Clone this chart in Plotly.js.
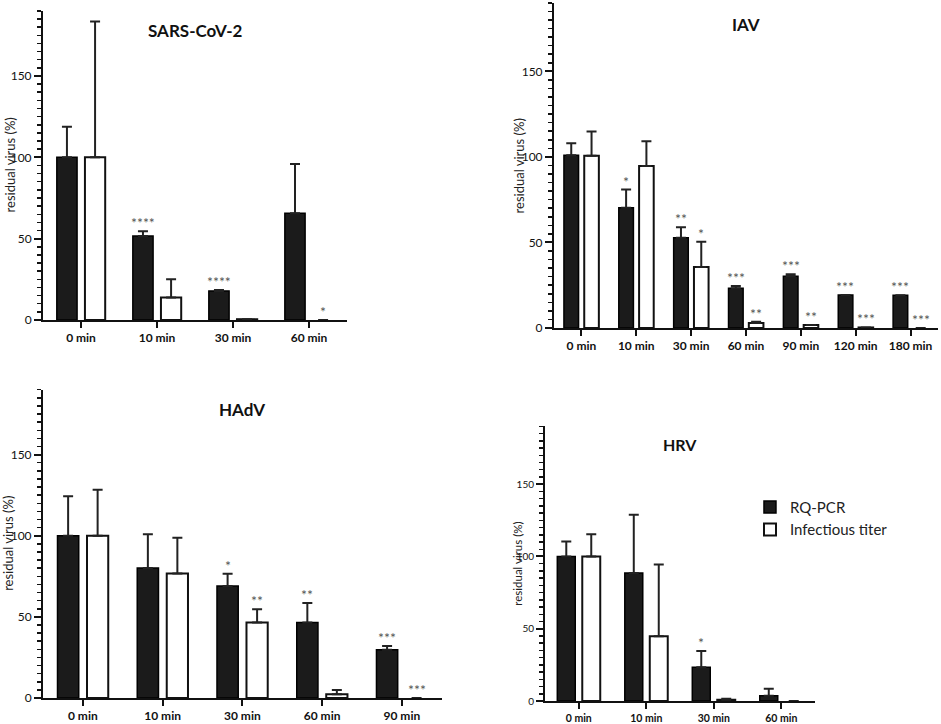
<!DOCTYPE html>
<html>
<head>
<meta charset="utf-8">
<script src="https://cdn.plot.ly/plotly-3.0.1.min.js"></script>
<style>
  html, body { margin: 0; padding: 0; background: #fff; }
  #chart { width: 941px; height: 724px; }
</style>
</head>
<body>
<div id="chart"></div>
<script>
// Values (residual virus, % of 0 min).
const sarsCats = ['0 min', '10 min', '30 min', '60 min'];
const sarsPcr = [100, 51.7, 17.9, 65.6];
const sarsPcrErr = [18.7, 2.8, 0.6, 30.3];
const sarsTiter = [100, 13.8, 0.5, 0];
const sarsTiterErr = [83.5, 11.3, 0, 0];
const sarsPcrStars = ['', '****', '****', ''];
const sarsTiterStars = ['', '', '', '*'];

const iavCats = ['0 min', '10 min', '30 min', '60 min', '90 min', '120 min', '180 min'];
const iavPcr = [101, 70.3, 52.7, 23.2, 30.3, 19.3, 19.1];
const iavPcrErr = [7, 10.6, 6.1, 1.4, 1.1, 0, 0];
const iavTiter = [100.6, 94.7, 35.7, 2.9, 1.8, 0.3, 0];
const iavTiterErr = [14.2, 14.5, 14.7, 0.8, 0, 0, 0];
const iavPcrStars = ['', '*', '**', '***', '***', '***', '***'];
const iavTiterStars = ['', '', '*', '**', '**', '***', '***'];

const hadvCats = ['0 min', '10 min', '30 min', '60 min', '90 min'];
const hadvPcr = [100, 80.1, 69.1, 46.5, 29.7];
const hadvPcrErr = [24.4, 20.9, 7.5, 12.1, 2.3];
const hadvTiter = [100, 76.8, 46.5, 2.3, 0];
const hadvTiterErr = [28.3, 22, 8.2, 2.6, 0];
const hadvPcrStars = ['', '', '*', '**', '***'];
const hadvTiterStars = ['', '', '**', '', '***'];

const hrvCats = ['0 min', '10 min', '30 min', '60 min'];
const hrvPcr = [100, 88.5, 23.3, 3.7];
const hrvPcrErr = [10.4, 40.3, 11.3, 4.8];
const hrvTiter = [100, 44.9, 0.9, 0];
const hrvTiterErr = [15.4, 49.6, 0.7, 0];
const hrvPcrStars = ['', '', '*', ''];
const hrvTiterStars = ['', '', '', ''];

const FONT = 'Lato, "Open Sans", sans-serif';
const BLACK = '#1b1b1b';
const STAR_COLOR = '#555';
// half-distance between the two bar centres of a group, in category units
const GROUP_OFFSET = 0.186;

const traces = [];
const annotations = [];
const layout = {
  width: 941,
  height: 724,
  margin: { l: 0, r: 0, t: 0, b: 0 },
  paper_bgcolor: '#fff',
  plot_bgcolor: 'rgba(0,0,0,0)',
  font: { family: FONT, color: '#111' },
  barmode: 'group',
  bargap: 0.26,
  bargroupgap: 0.28,
  showlegend: true,
  legend: {
    x: 0.797, y: 0.322, xanchor: 'left', yanchor: 'top',
    font: { family: FONT, size: 15, color: '#222' },
    bgcolor: 'rgba(0,0,0,0)',
    tracegroupgap: 0,
  },
  annotations,
};

// upper error bars only; a zero error gets no cap at all
function errBar(err) {
  return {
    type: 'data', symmetric: false,
    array: err.map(e => (e > 0 ? e : NaN)),
    arrayminus: err.map(() => 0),
    color: '#222', thickness: 2, width: 5,
  };
}

function starNotes(stars, vals, errs, shift, ax) {
  stars.forEach((s, i) => {
    if (!s) return;
    annotations.push({
      xref: 'x' + ax, yref: 'y' + ax,
      x: i + shift, y: vals[i] + errs[i],
      text: s, showarrow: false,
      yanchor: 'bottom', yshift: -2,
      font: { family: FONT, size: 14, color: STAR_COLOR },
    });
  });
}

function panel(n, p) {
  const ax = n === 1 ? '' : String(n);
  const xa = 'x' + ax, ya = 'y' + ax;
  traces.push({
    type: 'bar', x: p.cats, y: p.pcr, name: 'RQ-PCR',
    xaxis: xa, yaxis: ya, showlegend: n === 1, legendgroup: 'pcr',
    marker: { color: BLACK, line: { color: '#000', width: 1.5 } },
    error_y: errBar(p.pcrErr), hoverinfo: 'x+y',
  });
  traces.push({
    type: 'bar', x: p.cats, y: p.titer, name: 'Infectious titer',
    xaxis: xa, yaxis: ya, showlegend: n === 1, legendgroup: 'titer',
    marker: { color: '#fff', line: { color: '#111', width: p.titer.map(v => (v > 0 ? 2 : 0)) } },
    error_y: errBar(p.titerErr), hoverinfo: 'x+y',
  });
  starNotes(p.pcrStars, p.pcr, p.pcrErr, -GROUP_OFFSET, ax);
  starNotes(p.titerStars, p.titer, p.titerErr, GROUP_OFFSET, ax);

  // panel title, inside the plot area
  annotations.push({
    xref: xa + ' domain', yref: ya + ' domain', x: 0.5, y: 0.935,
    text: '<b>' + p.title + '</b>', showarrow: false,
    xanchor: 'center', yanchor: 'middle',
    font: { family: FONT, size: p.titleSize, color: '#111' },
  });
  // y title as a rotated note so each panel sits at the same distance from its axis
  annotations.push({
    xref: xa + ' domain', yref: ya + ' domain', x: 0, y: 0.5,
    xshift: p.yTitleShift, text: 'residual virus (%)', textangle: -90,
    showarrow: false, xanchor: 'center', yanchor: 'middle',
    font: { family: FONT, size: p.yTitleFont, color: '#222' },
  });

  layout['xaxis' + ax] = {
    domain: p.xdom, anchor: ya, type: 'category',
    range: [-0.5, p.cats.length - 0.5],
    showline: true, linecolor: '#111', linewidth: 2,
    ticks: 'outside', ticklen: 6, tickwidth: 2, tickcolor: '#111',
    showgrid: false, zeroline: false, fixedrange: true,
    tickfont: { family: FONT, size: p.xFont, color: '#111', weight: 'bold' },
  };
  layout['yaxis' + ax] = {
    domain: p.ydom, anchor: xa, range: [0, 190],
    tickmode: 'linear', tick0: 0, dtick: 50,
    showline: true, linecolor: '#111', linewidth: 2,
    ticks: 'outside', ticklen: 7, tickwidth: 2, tickcolor: '#111',
    minor: { tickmode: 'linear', tick0: 0, dtick: 5, ticks: 'outside', ticklen: 4, tickwidth: 1.5, tickcolor: '#111', showgrid: false },
    showgrid: false, zeroline: false, fixedrange: true,
    tickfont: { family: FONT, size: p.yFont, color: '#111' },
  };
}

panel(1, {
  cats: sarsCats, pcr: sarsPcr, pcrErr: sarsPcrErr, titer: sarsTiter, titerErr: sarsTiterErr,
  pcrStars: sarsPcrStars, titerStars: sarsTiterStars, title: 'SARS-CoV-2', titleSize: 17,
  xdom: [0.0457, 0.3688], ydom: [0.558, 0.985], xFont: 12, yFont: 12, yTitleFont: 13, yTitleShift: -33,
});
panel(2, {
  cats: iavCats, pcr: iavPcr, pcrErr: iavPcrErr, titer: iavTiter, titerErr: iavTiterErr,
  pcrStars: iavPcrStars, titerStars: iavTiterStars, title: 'IAV', titleSize: 17,
  xdom: [0.5887, 0.9968], ydom: [0.547, 0.996], xFont: 12, yFont: 12, yTitleFont: 13, yTitleShift: -35,
});
panel(3, {
  cats: hadvCats, pcr: hadvPcr, pcrErr: hadvPcrErr, titer: hadvTiter, titerErr: hadvTiterErr,
  pcrStars: hadvPcrStars, titerStars: hadvTiterStars, title: 'HAdV', titleSize: 17,
  xdom: [0.0457, 0.4694], ydom: [0.0359, 0.4617], xFont: 12, yFont: 12, yTitleFont: 13, yTitleShift: -35,
});
panel(4, {
  cats: hrvCats, pcr: hrvPcr, pcrErr: hrvPcrErr, titer: hrvTiter, titerErr: hrvTiterErr,
  pcrStars: hrvPcrStars, titerStars: hrvTiterStars, title: 'HRV', titleSize: 16,
  xdom: [0.5792, 0.8661], ydom: [0.0317, 0.4111], xFont: 10.5, yFont: 10, yTitleFont: 11.5, yTitleShift: -27,
});

Plotly.newPlot('chart', traces, layout, { displayModeBar: false, staticPlot: true });
</script>
</body>
</html>
